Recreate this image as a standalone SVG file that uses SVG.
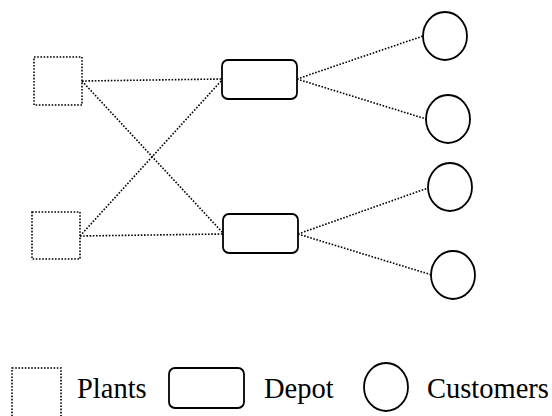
<svg xmlns="http://www.w3.org/2000/svg" width="552" height="416" viewBox="0 0 552 416">
<style>
.plant{fill:none;stroke:#000;stroke-width:1.6;stroke-dasharray:1.6 1.6}
.depot{fill:#fff;stroke:#000;stroke-width:1.8}
.cust{fill:#fff;stroke:#000;stroke-width:1.8}
.link{fill:none;stroke:#000;stroke-width:1.6;stroke-dasharray:1.6 1.6}
.lbl{font-family:"Liberation Serif","DejaVu Serif",serif;font-size:28.5px;fill:#000}
</style>
<rect width="552" height="416" fill="#fff"/>
<g id="connectors">
<line class="link" x1="82" y1="81" x2="222" y2="79"/>
<line class="link" x1="82" y1="81" x2="223" y2="233"/>
<line class="link" x1="80" y1="236" x2="222" y2="80"/>
<line class="link" x1="80" y1="236" x2="223" y2="234"/>
<line class="link" x1="297" y1="79" x2="423" y2="36"/>
<line class="link" x1="297" y1="79" x2="426" y2="119"/>
<line class="link" x1="298" y1="234" x2="428" y2="188"/>
<line class="link" x1="298" y1="234" x2="432" y2="275"/>
</g>
<g id="plant1"><rect class="plant" x="34" y="57" width="48" height="48"/></g>
<g id="plant2"><rect class="plant" x="32" y="212" width="48" height="47"/></g>
<g id="depot1"><rect class="depot" x="222" y="60" width="75" height="39" rx="6"/></g>
<g id="depot2"><rect class="depot" x="223" y="214" width="75" height="39" rx="6"/></g>
<g id="customer1"><ellipse class="cust" cx="445" cy="36" rx="22" ry="24"/></g>
<g id="customer2"><ellipse class="cust" cx="448" cy="119" rx="22" ry="24"/></g>
<g id="customer3"><ellipse class="cust" cx="450" cy="187" rx="22" ry="24"/></g>
<g id="customer4"><ellipse class="cust" cx="453" cy="275" rx="22" ry="24"/></g>
<g id="legend">
<rect class="plant" x="12" y="368" width="49" height="60"/>
<text class="lbl" x="77" y="398">Plants</text>
<rect class="depot" x="169" y="368" width="75" height="40" rx="6"/>
<text class="lbl" x="264" y="398">Depot</text>
<ellipse class="cust" cx="386" cy="387" rx="22" ry="24"/>
<text class="lbl" x="427" y="398">Customers</text>
</g>
</svg>
